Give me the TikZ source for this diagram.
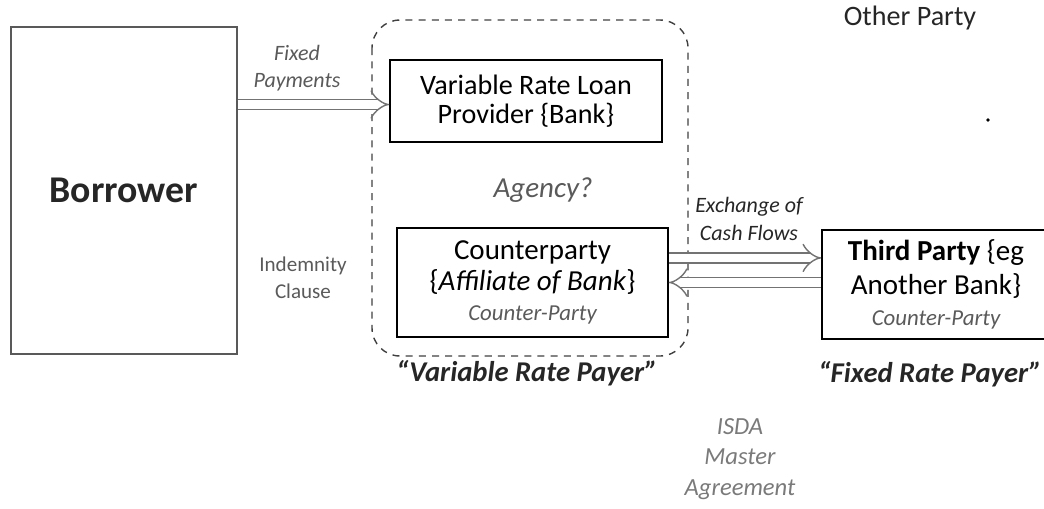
\documentclass[tikz,border=0pt]{standalone}
\usepackage{fontspec}
\setmainfont{Carlito}
\usetikzlibrary{arrows.meta}
\definecolor{txtgray}{HTML}{5A5A5A}
\definecolor{lightgray}{HTML}{7A7A7A}
\begin{document}
\begin{tikzpicture}[x=0.02cm, y=-0.02cm,
		box/.style={draw, line width=0.9pt, align=center, inner sep=2pt},
		flow/.style={draw=gray!90!black, line width=0.8pt, double=white, double distance=5pt, -{Implies}},
		lbl/.style={align=center, inner sep=0pt}]
		% --- 1. Canvas ---
		\useasboundingbox (0,0) rectangle (1044,508);
		
		% --- 2. Boxes ---
		\node[box, draw=gray!70!black, line width=0.8pt, minimum width=4.52cm, minimum height=6.54cm,
			font=\fontsize{21.5}{24}\selectfont\bfseries, text=black!85] (borrower) at (124,190.5) {Borrower};
		\node[box, minimum width=5.44cm, minimum height=1.64cm,
			font=\fontsize{16}{16.5}\selectfont] (loan) at (526,101) {Variable Rate Loan\\Provider \{Bank\}};
		\node[box, minimum width=5.42cm, minimum height=2.18cm,
			font=\fontsize{16.5}{18}\selectfont] (cpty) at (532.5,282.5)
			{Counterparty\\\{\textit{Affiliate of Bank}\}\\[-1pt]{\fontsize{13}{14}\selectfont\itshape\color{txtgray}Counter-Party}};
		\node[box, minimum width=4.56cm, minimum height=2.18cm,
			font=\fontsize{16.5}{19}\selectfont] (third) at (936,284.5)
			{\textbf{Third Party} \{eg\\Another Bank\}\\[-1pt]{\fontsize{13}{14}\selectfont\itshape\color{txtgray}Counter-Party}};
		
		% --- 3. Dashed group frame ---
		\draw[black!75, line width=0.8pt, dash pattern=on 4pt off 3.5pt, rounded corners=16pt] (372,20) rectangle (688,356);
		
		% --- 4. Cash flow arrows ---
		\draw[flow] ([yshift=-2pt]loan.west -| borrower.east) -- ([yshift=-2pt]loan.west);
		\draw[flow] ([yshift=14pt]cpty.east) -- ([yshift=14pt]cpty.east -| third.west);
		\draw[flow] (third.west |- cpty.east) -- (cpty.east);
		
		% --- 5. Labels ---
		\node[lbl, font=\fontsize{12.5}{15}\selectfont\itshape, text=txtgray] (fixpay) at (297,68) {Fixed\\Payments};
		\node[lbl, font=\fontsize{12}{15.5}\selectfont, text=txtgray] (indem) at (303,278) {Indemnity\\Clause};
		\node[lbl, font=\fontsize{16.5}{18}\selectfont\itshape, text=txtgray] (agency) at (543,190) {Agency?};
		\node[lbl, font=\fontsize{12.5}{15.5}\selectfont\itshape, text=black!85] (exch) at (749,219) {Exchange of\\Cash Flows};
		\node[lbl, font=\fontsize{16.3}{18}\selectfont\bfseries\itshape, text=black!85] (varpayer) at (527,373) {“Variable Rate Payer”};
		\node[lbl, font=\fontsize{16.3}{18}\selectfont\bfseries\itshape, text=black!85] (fixpayer) at (930,374) {“Fixed Rate Payer”};
		\node[lbl, font=\fontsize{14}{17.5}\selectfont\itshape, text=lightgray] (isda) at (740,459) {ISDA\\Master\\Agreement};
		\node[lbl, font=\fontsize{16}{17}\selectfont, text=black!85] (other) at (910,18) {Other Party};
		
		% --- 6. Stray dot ---
		\fill (988,120) circle (1.1pt);
	\end{tikzpicture}
\end{document}
